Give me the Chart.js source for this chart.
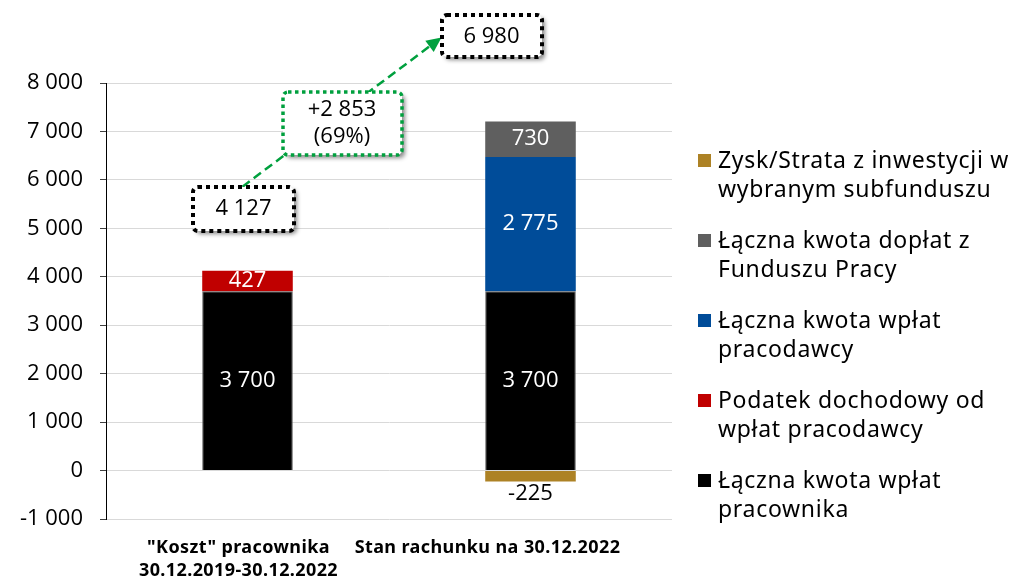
<!DOCTYPE html>
<html>
<head>
<meta charset="utf-8">
<script src="https://cdn.jsdelivr.net/npm/chart.js@4/dist/chart.umd.min.js"></script>
<style>
html, body { margin: 0; padding: 0; background: #fff; }
</style>
</head>
<body>
<canvas id="chart" width="1020" height="578"></canvas>
<script>
// categories and series values
var categories = [['"Koszt" pracownika', '30.12.2019-30.12.2022'], ['Stan rachunku na 30.12.2022']];
var employeeContrib = [3700, 3700];
var incomeTax = [427, null];
var employerContrib = [null, 2775];
var stateSubsidy = [null, 730];
var investResult = [null, -225];

var seriesNames = [
    ['Łączna kwota wpłat', 'pracownika'],
    ['Podatek dochodowy od', 'wpłat pracodawcy'],
    ['Łączna kwota wpłat', 'pracodawcy'],
    ['Łączna kwota dopłat z', 'Funduszu Pracy'],
    ['Zysk/Strata z inwestycji w', 'wybranym subfunduszu']
];
var seriesColors = ['#000000', '#C00000', '#004C99', '#5F5F5F', '#AD8225'];

var yMin = -1000, yMax = 8000, yStep = 1000;

// annotation values
var totalCost = 4127;
var totalAccount = 6980;
var growthText = ['+2 853', '(69%)'];

var numFont = '"Open Sans", "Liberation Sans", sans-serif';
var textFont = '"Noto Sans", "DejaVu Sans", sans-serif';

function fmt(v) {
    var s = String(Math.abs(v)).replace(/\B(?=(\d{3})+(?!\d))/g, ' ');
    return (v < 0 ? '-' : '') + s;
}

function drawBox(ctx, cx, cy, w, h, lines, color, lw) {
    var x = Math.round(cx - w / 2), y = Math.round(cy - h / 2);
    ctx.save();
    ctx.shadowColor = 'rgba(0,0,0,0.45)';
    ctx.shadowBlur = 4;
    ctx.shadowOffsetX = 3;
    ctx.shadowOffsetY = 3;
    ctx.fillStyle = '#ffffff';
    ctx.beginPath();
    ctx.roundRect(x, y, w, h, 5);
    ctx.fill();
    ctx.shadowColor = 'transparent';
    ctx.setLineDash([lw, lw]);
    ctx.lineWidth = lw;
    ctx.strokeStyle = color;
    ctx.stroke();
    ctx.setLineDash([]);
    ctx.fillStyle = '#000';
    ctx.font = '22px ' + numFont;
    ctx.textAlign = 'center';
    ctx.textBaseline = 'middle';
    var lh = 27;
    var y0 = cy - (lines.length - 1) * lh / 2;
    lines.forEach(function(t, i) { ctx.fillText(t, cx, y0 + i * lh); });
    ctx.restore();
}

var extrasPlugin = {
    id: 'extras',
    afterDatasetsDraw: function(chart) {
        var ctx = chart.ctx;
        // value labels
        chart.data.datasets.forEach(function(ds, i) {
            var meta = chart.getDatasetMeta(i);
            meta.data.forEach(function(bar, j) {
                var v = ds.data[j];
                if (v == null) return;
                ctx.save();
                ctx.font = '22px ' + numFont;
                ctx.textAlign = 'center';
                ctx.textBaseline = 'middle';
                if (v < 0) {
                    ctx.fillStyle = '#000';
                    ctx.fillText(fmt(v), bar.x, bar.y + 12);
                } else {
                    ctx.fillStyle = '#fff';
                    ctx.fillText(fmt(v), bar.x, (bar.y + bar.base) / 2);
                }
                ctx.restore();
            });
        });
    },
    afterDraw: function(chart) {
        var ctx = chart.ctx;
        var xs = chart.scales.x, ys = chart.scales.y;
        var area = chart.chartArea;
        var x0 = xs.getPixelForValue(0), x1 = xs.getPixelForValue(1);

        // category labels
        var shifts = [-9, -43];
        ctx.save();
        ctx.font = 'bold 18px ' + textFont;
        ctx.letterSpacing = '0.4px';
        ctx.fillStyle = '#000';
        ctx.textAlign = 'center';
        ctx.textBaseline = 'middle';
        categories.forEach(function(lines, i) {
            var cx = xs.getPixelForValue(i) + shifts[i];
            lines.forEach(function(t, k) { ctx.fillText(t, cx, area.bottom + 29 + k * 23); });
        });
        ctx.restore();

        // legend (reverse order)
        ctx.save();
        ctx.font = '23px ' + textFont;
        ctx.letterSpacing = '0.7px';
        ctx.textBaseline = 'middle';
        ctx.textAlign = 'left';
        var lx = area.right + 26, ly = area.top + 78;
        for (var i = seriesNames.length - 1, n = 0; i >= 0; i--, n++) {
            var yy = ly + n * 80;
            ctx.fillStyle = seriesColors[i];
            ctx.fillRect(lx, yy - 7, 13, 13);
            ctx.fillStyle = '#000';
            seriesNames[i].forEach(function(t, k) { ctx.fillText(t, lx + 20, yy + k * 29); });
        }
        ctx.restore();

        // annotation boxes and arrow
        var b1 = { cx: x0 - 4, cy: ys.getPixelForValue(totalCost) - 62, w: 101, h: 44 };
        var b2 = { cx: x1 - 39, cy: ys.getPixelForValue(totalAccount) - 96, w: 100, h: 42 };
        var sx = b1.cx - 1, sy = b1.cy - b1.h / 2;
        var ex = b2.cx - b2.w / 2, ey = b2.cy + 1;
        ctx.save();
        ctx.strokeStyle = '#00A03E';
        ctx.fillStyle = '#00A03E';
        ctx.lineWidth = 2.5;
        ctx.setLineDash([9, 5]);
        var ang = Math.atan2(ey - sy, ex - sx);
        var hl = 15;
        ctx.beginPath();
        ctx.moveTo(sx, sy);
        ctx.lineTo(ex - Math.cos(ang) * hl, ey - Math.sin(ang) * hl);
        ctx.stroke();
        ctx.setLineDash([]);
        ctx.beginPath();
        ctx.moveTo(ex, ey);
        ctx.lineTo(ex - Math.cos(ang) * hl + Math.sin(ang) * 7, ey - Math.sin(ang) * hl - Math.cos(ang) * 7);
        ctx.lineTo(ex - Math.cos(ang) * hl - Math.sin(ang) * 7, ey - Math.sin(ang) * hl + Math.cos(ang) * 7);
        ctx.closePath();
        ctx.fill();
        ctx.restore();

        drawBox(ctx, b1.cx, b1.cy, b1.w, b1.h, [fmt(totalCost)], '#000', 4);
        drawBox(ctx, b2.cx, b2.cy, b2.w, b2.h, [fmt(totalAccount)], '#000', 4);
        var gx = (sx + ex) / 2, gy = (sy + ey) / 2 + 11;
        drawBox(ctx, gx, gy, 119, 63, growthText, '#00A03E', 3.5);
    }
};

var datasets = [employeeContrib, incomeTax, employerContrib, stateSubsidy, investResult].map(function(d, i) {
    return {
        label: seriesNames[i].join(' '),
        data: d,
        backgroundColor: seriesColors[i],
        borderColor: i === 0 ? '#595959' : seriesColors[i],
        borderWidth: i === 0 ? 1 : 0,
        barPercentage: 0.32,
        categoryPercentage: 1
    };
});

new Chart(document.getElementById('chart'), {
    type: 'bar',
    data: { labels: categories, datasets: datasets },
    options: {
        responsive: false,
        devicePixelRatio: 1,
        animation: false,
        layout: { padding: { left: 0, right: 348, top: 83, bottom: 0 } },
        plugins: { legend: { display: false }, tooltip: { enabled: false } },
        scales: {
            x: {
                stacked: true,
                grid: { display: false },
                border: { display: false },
                ticks: { display: false },
                afterFit: function(s) { s.height = 59; }
            },
            y: {
                stacked: true,
                min: yMin,
                max: yMax,
                ticks: {
                    stepSize: yStep,
                    color: '#000',
                    padding: 17,
                    font: { family: numFont, size: 22 },
                    callback: function(v) { return fmt(v); }
                },
                grid: { color: '#D9D9D9', tickColor: '#404040', tickLength: 6 },
                border: { color: '#000', width: 1 },
                afterFit: function(s) { s.width = 106; }
            }
        }
    },
    plugins: [extrasPlugin]
});
</script>
</body>
</html>
